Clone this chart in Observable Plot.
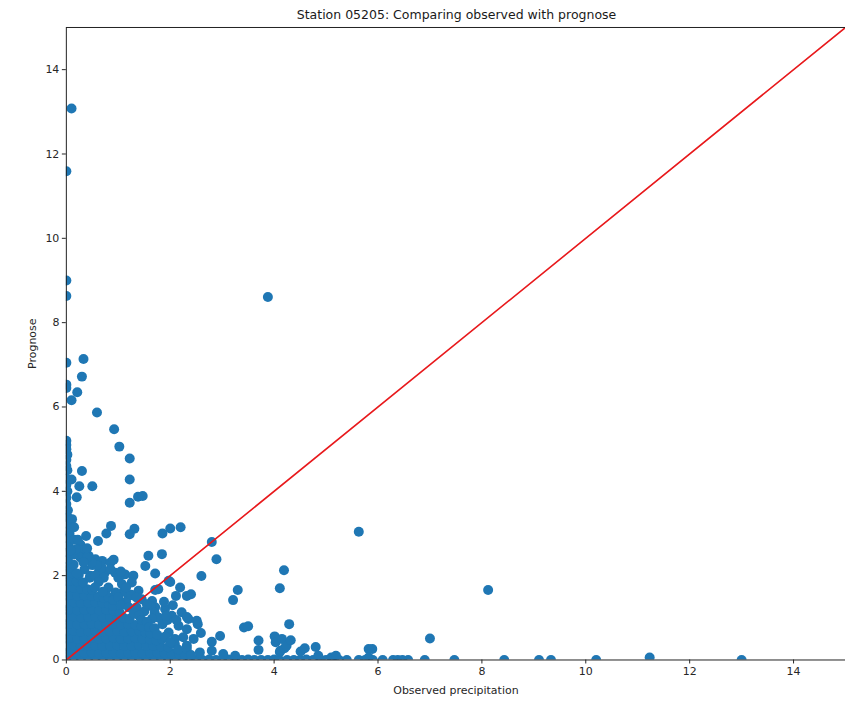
<!DOCTYPE html>
<html>
<head>
<meta charset="utf-8">
<script src="https://cdn.jsdelivr.net/npm/d3@7"></script>
<script src="https://cdn.jsdelivr.net/npm/@observablehq/plot@0.6"></script>
<style>
  html, body { margin: 0; padding: 0; background: #fff; overflow: hidden; width: 845px; height: 701px; }
  #title { height: 21px; width: 781px; padding-left: 66px; text-align: center; font-family: "DejaVu Sans", sans-serif; font-size: 12.5px; line-height: 30px; color: #1a1a1a; white-space: nowrap; }
  #chart svg { display: block; }
</style>
</head>
<body>
<div id="title">Station 05205: Comparing observed with prognose</div>
<div id="chart"></div>
<script>
// Tick labels
const xTicks = [0, 2, 4, 6, 8, 10, 12, 14];
const yTicks = [0, 2, 4, 6, 8, 10, 12, 14];
const axisDomain = [0, 15];
// identity line (observed == prognose)
const identityLine = [0, 15];

// [observed precipitation, prognose]
const outliers = [
  [0.1,13.08],[0,11.59],[0,9.0],[0,8.63],[3.88,8.61],[0,7.05],[0.33,7.14],[0.3,6.72],
  [0,6.53],[0,6.45],[0.21,6.35],[0.1,6.16],[0.59,5.87],[0.92,5.47],[1.02,5.06],[1.22,4.78],
  [1.22,4.28],[1.22,3.73],[1.38,3.87],[1.47,3.89],[0.3,4.48],[0.1,4.28],[0.25,4.12],[0.5,4.12],
  [0.2,3.86],[5.63,3.04],[8.12,1.66],[7.0,0.51]
];

const zeroColumn = [
  [0,5.2],[0,5.1],[0,5.0],[0.02,4.87],[0,4.75],[0,4.6],[0.02,4.5],[0,4.3],[0,4.15],
  [0.02,4.0],[0,3.85],[0,3.7],[0.03,3.55],[0,3.45]
];

const scattered = [
  [0.11,3.34],[0.11,3.14],[0.06,3.0],[0.15,2.85],[0.38,2.94],[0.61,2.82],[0.77,3.0],[0.86,3.18],
  [1.31,3.11],[1.22,2.98],[1.85,3.0],[2.0,3.12],[2.2,3.15],[2.8,2.8],[2.89,2.39],[0.27,2.74],
  [0.3,2.59],[0.27,2.43],[0.43,2.47],[0.56,2.39],[0.69,2.35],[0.85,2.31],[0.91,2.38],[1.58,2.47],
  [1.84,2.51],[1.52,2.23],[1.71,2.05],[0.62,2.07],[0.75,2.09],[0.94,2.07],[1.13,2.03],[1.29,2.0],
  [1.97,1.88],[1.77,1.68],[2.19,1.72],[2.32,1.52],[1.07,1.8],[1.26,1.84],[0.81,1.72],[1.39,1.64],
  [1.2,1.52],[1.45,1.44],[1.65,1.4],[1.71,1.25],[1.9,1.21],[2.03,1.05],[2.22,1.13],[2.35,0.97],
  [2.16,0.81],[2.32,0.73],[1.97,0.65],[2.09,0.5],[2.32,0.34],[1.84,0.5],[2.6,1.99],[2.4,1.56],
  [2.11,1.52],[2.0,1.85],[1.71,1.66],[3.21,1.42],[3.3,1.66],[4.19,2.13],[4.11,1.7],[3.42,0.77],
  [3.5,0.8],[4.29,0.85],[2.96,0.57],[2.8,0.43],[2.51,0.93],[2.53,0.85],[2.32,1.02],[2.59,0.64],
  [3.7,0.46],[3.7,0.24],[4.01,0.56],[4.03,0.42],[4.15,0.5],[4.11,0.19],[4.12,0.22],[4.2,0.28],
  [4.24,0.34],[4.32,0.47],[4.51,0.2],[4.59,0.28],[4.8,0.31],[4.85,0.1],[5.1,0.06],[5.19,0.1],
  [5.82,0.26],[5.89,0.26],[5.82,0.06],[2.45,0.5],[2.25,0.54],[2.09,0.38],[2.32,0.26],[2.57,0.18],
  [2.8,0.22],[3.02,0.14],[3.25,0.1],[1.62,1.28],[1.7,1.12],[1.78,1.0],[1.65,0.98],[1.85,0.85],
  [1.95,0.95],[0.35,2.15],[0.5,2.25],[0.15,2.5],[0.45,1.95],[1.1,1.62],[0.95,1.6],[1.35,1.25],
  [1.5,1.15],[0.46,2.0],[0.65,2.11],[0.68,2.2],[0.59,2.25],[0.49,2.31],[0.4,2.43],
  [0.2,2.05],[0.33,2.32],[0.55,2.0],[0.72,1.95],[0.85,2.15],[1.0,1.95],[1.05,2.1],[0.18,2.62],
  [0.08,2.6],[0.22,2.85],[0.4,2.65],[0.15,3.15],[0.8,1.5],[0.9,1.42],[1.0,1.48],[1.15,1.38],
  [1.25,1.55],[1.35,1.48],[1.05,1.3],[1.2,1.25],[1.3,1.1],[1.4,1.05],[1.45,0.95],[1.55,0.9],
  [1.6,0.78],[1.7,0.75],[1.75,0.6],[1.9,0.55],[2.0,0.42],[2.15,0.25],[2.4,0.12],[1.55,1.32],
  [0.62,1.85],[0.55,1.72],[0.7,1.62],[1.15,1.72],[1.88,1.38],[2.05,1.3],[1.92,1.05],[2.12,0.95]
];

const baseline = [
  [2.62,0],[2.75,0.01],[2.88,0],[3.0,0],[3.12,0.01],[3.25,0],[3.38,0],[3.5,0.01],[3.62,0],
  [3.75,0],[3.88,0],[4.0,0.01],[4.1,0],[4.25,0],[4.38,0],[4.5,0],[4.62,0.01],[4.75,0],[4.9,0],
  [5.0,0],[5.12,0],[5.25,0],[5.4,0],[5.63,0],[5.75,0],[5.9,0],[6.09,0],[6.29,0],[6.38,0],
  [6.47,0],[6.58,0],[6.9,0],[7.47,0],[8.43,0],[9.1,0],[9.33,0],[10.2,0],[11.23,0.06],[13.0,0]
];

const denseCore = [
  [0,0],[0.14,0],[0.28,0.01],[0.42,0],[0.56,0],[0.7,0.01],[0.84,0],[0.98,0],[1.12,0.01],[1.26,0],
  [1.4,0],[1.54,0],[1.68,0.01],[1.82,0],[1.96,0],[2.1,0],[2.24,0.02],[2.38,0],[2.5,0],
  [0,0.17],[0.07,0.18],[0.21,0.16],[0.35,0.17],[0.49,0.18],[0.63,0.16],[0.77,0.17],[0.91,0.18],
  [1.05,0.16],[1.19,0.17],[1.33,0.18],[1.47,0.16],[1.61,0.17],[1.75,0.18],[1.89,0.16],[2.03,0.15],[2.17,0.14],[2.29,0.12],
  [0,0.34],[0.14,0.35],[0.28,0.33],[0.42,0.34],[0.56,0.35],[0.7,0.33],[0.84,0.34],[0.98,0.35],
  [1.12,0.33],[1.26,0.34],[1.4,0.35],[1.54,0.33],[1.68,0.34],[1.82,0.32],[1.96,0.3],
  [0,0.51],[0.07,0.52],[0.21,0.5],[0.35,0.51],[0.49,0.52],[0.63,0.5],[0.77,0.51],[0.91,0.52],
  [1.05,0.5],[1.19,0.51],[1.33,0.52],[1.47,0.5],[1.61,0.49],[1.73,0.46],
  [0,0.68],[0.14,0.69],[0.28,0.67],[0.42,0.68],[0.56,0.69],[0.7,0.67],[0.84,0.68],[0.98,0.69],
  [1.12,0.67],[1.26,0.68],[1.4,0.69],[1.52,0.66],[1.62,0.63],
  [0,0.85],[0.07,0.86],[0.21,0.84],[0.35,0.85],[0.49,0.86],[0.63,0.84],[0.77,0.85],[0.91,0.86],
  [1.05,0.84],[1.19,0.85],[1.33,0.83],[1.45,0.8],
  [0,1.02],[0.14,1.03],[0.28,1.01],[0.42,1.02],[0.56,1.03],[0.7,1.01],[0.84,1.02],[0.98,1.03],
  [1.1,1.0],[1.22,0.98],
  [0,1.19],[0.07,1.2],[0.21,1.18],[0.35,1.19],[0.49,1.2],[0.63,1.18],[0.77,1.19],[0.91,1.16],[1.03,1.12],
  [0,1.36],[0.14,1.37],[0.28,1.35],[0.42,1.36],[0.56,1.37],[0.7,1.35],[0.82,1.32],[0.9,1.28],
  [0,1.53],[0.07,1.54],[0.21,1.52],[0.35,1.53],[0.49,1.52],[0.62,1.5],[0.72,1.47],
  [0,1.7],[0.14,1.71],[0.28,1.69],[0.4,1.68],[0.5,1.66],
  [0,1.87],[0.07,1.88],[0.2,1.86],[0.32,1.84],
  [0,2.04],[0.12,2.05],[0.24,2.02],
  [0,2.21],[0.07,2.2],[0.14,2.26],
  [0.03,2.38],[0.03,2.55],[0.04,2.72],[0.02,2.89],[0.03,3.06],[0.02,3.23],[0.03,3.38]
];

const points = [...denseCore, ...zeroColumn, ...baseline, ...scattered, ...outliers]
  .map(([observed, prognose]) => ({observed, prognose}));

const chart = Plot.plot({
  width: 847,
  height: 680,
  marginTop: 6,
  marginLeft: 66,
  marginRight: 0,
  marginBottom: 40,
  style: {fontFamily: "DejaVu Sans, sans-serif", fontSize: "11px", color: "#262626", background: "#fff"},
  x: {domain: axisDomain},
  y: {domain: axisDomain},
  marks: [
    Plot.dot(points, {x: "observed", y: "prognose", r: 5, fill: "#1f77b4", stroke: null, clip: true}),
    Plot.line(identityLine, {x: d => d, y: d => d, stroke: "#e8191c", strokeWidth: 1.6, clip: true}),
    Plot.frame({stroke: "#222", strokeWidth: 1}),
    Plot.axisX({ticks: xTicks, tickFormat: d => String(d), tickSize: 4, tickPadding: 3, label: "Observed precipitation", labelAnchor: "center", labelArrow: "none", labelOffset: 34}),
    Plot.axisY({ticks: yTicks, tickFormat: d => String(d), tickSize: 4, tickPadding: 3, label: "Prognose", labelAnchor: "center", labelArrow: "none", labelOffset: 38})
  ]
});
document.getElementById("chart").appendChild(chart);
</script>
</body>
</html>
